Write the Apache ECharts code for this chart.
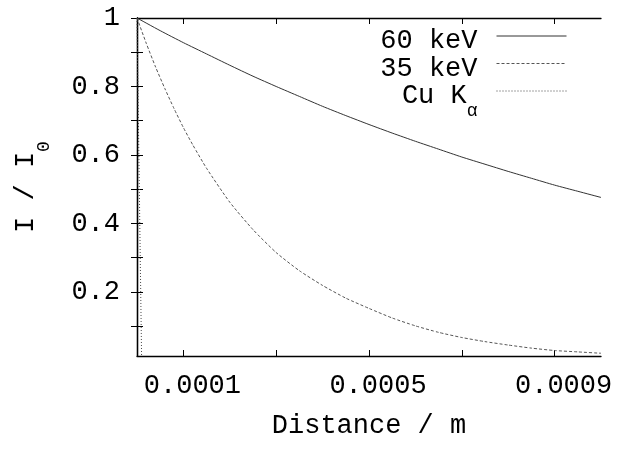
<!DOCTYPE html>
<html><head><meta charset="utf-8">
<script src="https://cdn.jsdelivr.net/npm/echarts@6/dist/echarts.min.js"></script>
<style>html,body{margin:0;padding:0;background:#fff}#c{width:640px;height:457px}</style>
</head><body><div id="c"></div>
<script>
// ---- data ----
const seriesNames = ['60 keV', '35 keV', 'Cu Kα'];
const x60 = [0, 0.00005, 0.0001, 0.00015, 0.0002, 0.00025, 0.0003, 0.00035, 0.0004, 0.00045, 0.0005,
             0.00055, 0.0006, 0.00065, 0.0007, 0.00075, 0.0008, 0.00085, 0.0009, 0.00095, 0.001];
const y60 = [1, 0.963, 0.928, 0.895, 0.862, 0.830, 0.800, 0.771, 0.742, 0.715, 0.689,
             0.664, 0.640, 0.617, 0.594, 0.573, 0.552, 0.532, 0.512, 0.494, 0.476];
const x35 = [0, 0.00002, 0.00004, 0.00006, 0.00008, 0.0001, 0.00012, 0.00015, 0.0002, 0.00025, 0.0003,
             0.00035, 0.0004, 0.00045, 0.0005, 0.00055, 0.0006, 0.00065, 0.0007, 0.00075, 0.0008,
             0.00085, 0.0009, 0.00095, 0.001];
const y35 = [1, 0.926, 0.857, 0.794, 0.735, 0.68, 0.63, 0.561, 0.462, 0.382, 0.315,
             0.262, 0.219, 0.182, 0.152, 0.124, 0.101, 0.082, 0.067, 0.055, 0.045,
             0.036, 0.029, 0.025, 0.021];
const xCu = [0, 0.00001, 0.00002, 0.0001];
const yCu = [1, 0.0001, 0, 0];
const xTickValues = [0.0001, 0.0003, 0.0005, 0.0007, 0.0009];
const xLabelValues = [0.0001, 0.0005, 0.0009];
const yTickValues = [0.1, 0.2, 0.3, 0.4, 0.5, 0.6, 0.7, 0.8, 0.9, 1];
const yLabelValues = [0.2, 0.4, 0.6, 0.8, 1];
const xName = 'Distance / m';
const yName = 'I / I{sub|0}';

// ---- chart ----
const FONT = '"Liberation Mono", "DejaVu Sans Mono", monospace';
const FS = 27;
const chart = echarts.init(document.getElementById('c'), null, {renderer: 'canvas'});
const zip = (xs, ys) => xs.map((x, i) => [x, ys[i]]);
const XMIN = 0, XMAX = 0.001, YMIN = 0.013, YMAX = 1;
const axisLineStyle = {show: true, lineStyle: {color: '#000', width: 1.3}};
const tick = (vals) => ({show: true, inside: true, length: 6, customValues: vals, lineStyle: {color: '#000', width: 1}});

chart.setOption({
  animation: false,
  backgroundColor: '#fff',
  grid: {left: 137, top: 18, width: 464, height: 338, show: false},
  legend: {
    orient: 'vertical', align: 'right', right: 73, top: 23, padding: 0, itemGap: -4,
    itemWidth: 70, itemHeight: 14,
    itemStyle: {opacity: 0},
    lineStyle: {width: 1},
    data: seriesNames,
    formatter: (n) => n === 'Cu Kα' ? 'Cu K{sub|α}' : n,
    textStyle: {
      fontFamily: FONT, fontSize: FS, color: '#000', lineHeight: 16, padding: [10, 14, 0, 0],
      rich: {sub: {fontFamily: FONT, fontSize: 18, color: '#000', lineHeight: 16, verticalAlign: 'bottom', padding: [0, 0, -16, 0]}}
    }
  },
  xAxis: [{
    type: 'value', min: XMIN, max: XMAX, position: 'bottom',
    axisLine: axisLineStyle, splitLine: {show: false},
    axisTick: tick(xTickValues),
    axisLabel: {customValues: xLabelValues, formatter: (v) => String(v), margin: 16,
      fontFamily: FONT, fontSize: FS, color: '#000', padding: [0, 0, 0, 18]},
    name: xName, nameLocation: 'middle', nameGap: 56,
    nameTextStyle: {fontFamily: FONT, fontSize: FS, color: '#000'}
  }, {
    type: 'value', min: XMIN, max: XMAX, position: 'top',
    axisLine: axisLineStyle, splitLine: {show: false},
    axisTick: tick(xTickValues), axisLabel: {show: false}
  }],
  yAxis: [{
    type: 'value', min: YMIN, max: YMAX, position: 'left',
    axisLine: axisLineStyle, splitLine: {show: false},
    axisTick: tick(yTickValues),
    axisLabel: {customValues: yLabelValues, formatter: (v) => String(v), margin: 17,
      fontFamily: FONT, fontSize: FS, color: '#000'},
    name: yName, nameLocation: 'middle', nameGap: 98, nameRotate: 90,
    nameTextStyle: {fontFamily: FONT, fontSize: FS, color: '#000',
      rich: {sub: {fontFamily: FONT, fontSize: 18, color: '#000', verticalAlign: 'bottom', padding: [0, 0, -14, 0]}}}
  }, {
    type: 'value', min: YMIN, max: YMAX, position: 'right',
    axisLine: axisLineStyle, splitLine: {show: false},
    axisTick: tick(yTickValues), axisLabel: {show: false}
  }],
  series: [
    {name: seriesNames[0], type: 'line', data: zip(x60, y60), showSymbol: false, symbol: 'none', clip: true, smooth: 0.2,
     lineStyle: {color: '#333', width: 1, type: 'solid'}, itemStyle: {color: '#333'}},
    {name: seriesNames[1], type: 'line', data: zip(x35, y35), showSymbol: false, symbol: 'none', clip: true, smooth: 0.2,
     lineStyle: {color: '#555', width: 1, type: [3, 2]}, itemStyle: {color: '#555'}},
    {name: seriesNames[2], type: 'line', data: zip(xCu, yCu), showSymbol: false, symbol: 'none', clip: true,
     lineStyle: {color: '#444', width: 1, type: [1, 2]}, itemStyle: {color: '#444'}}
  ]
});
</script></body></html>
